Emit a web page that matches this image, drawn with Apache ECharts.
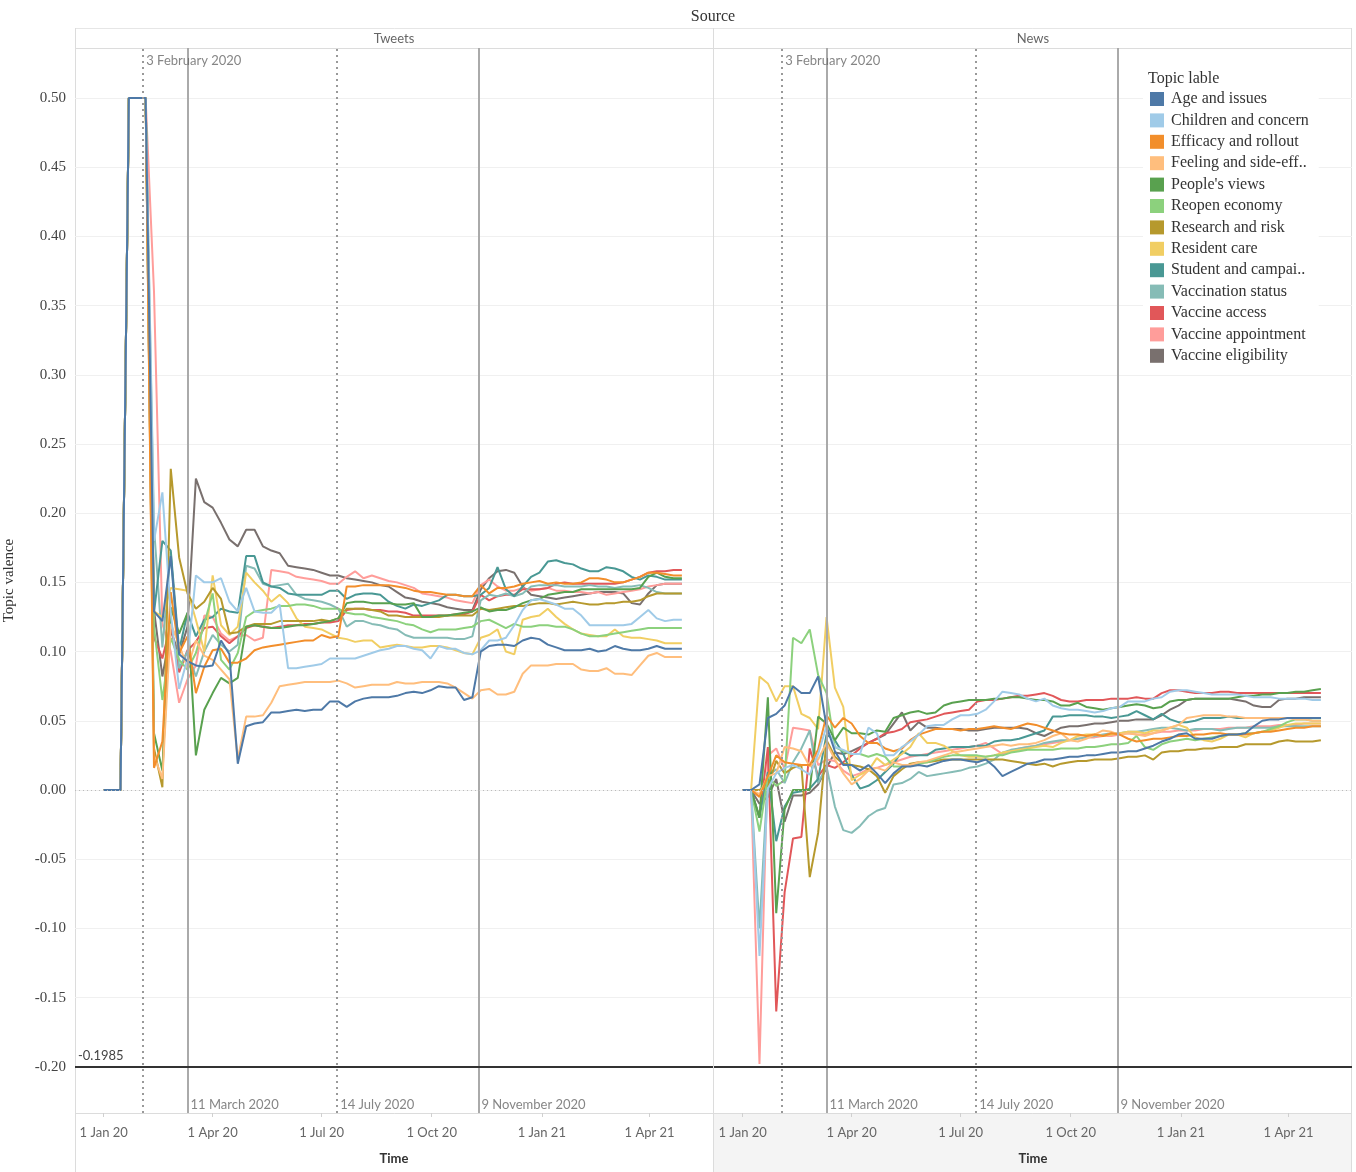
<!DOCTYPE html>
<html><head><meta charset="utf-8">
<script src="https://cdn.jsdelivr.net/npm/echarts@6/dist/echarts.min.js"></script>
<style>html,body{margin:0;padding:0;background:#fff}#c{width:1356px;height:1172px}</style>
</head><body><div id="c"></div>
<script>
// ---------- categories ----------
const topics = ['Age and issues','Children and concern','Efficacy and rollout','Feeling and side-eff..',"People's views",'Reopen economy','Research and risk','Resident care','Student and campai..','Vaccination status','Vaccine access','Vaccine appointment','Vaccine eligibility'];
const topicColors = ['#4E79A7','#A0CBE8','#F28E2B','#FFBE7D','#59A14F','#8CD17D','#B6992D','#F1CE63','#499894','#86BCB6','#E15759','#FF9D9A','#79706E'];
const panels = ['Tweets','News'];
const firstWeek = '2020-01-01';
const weekCount = 70;
const xTickDates = ['2020-01-01','2020-04-01','2020-07-01','2020-10-01','2021-01-01','2021-04-01'];
const yTicks = [-0.20,-0.15,-0.10,-0.05,0,0.05,0.10,0.15,0.20,0.25,0.30,0.35,0.40,0.45,0.50];
const refDates = ['2020-02-03','2020-03-11','2020-07-14','2020-11-09'];
const refLabels = ['3 February 2020','11 March 2020','14 July 2020','9 November 2020'];
const refDotted = [true,false,true,false];
const refLineValue = -0.1985;

// ---------- Tweets values (weekly) ----------
const tweetsAge = [0,0,0,0.5,0.5,0.5,0.129,0.122,0.169,0.098,0.093,0.090,0.089,0.090,0.108,0.098,0.019,0.046,0.048,0.049,0.056,0.056,0.057,0.058,0.057,0.058,0.058,0.064,0.064,0.060,0.064,0.066,0.067,0.067,0.067,0.068,0.070,0.071,0.070,0.072,0.075,0.074,0.074,0.065,0.067,0.100,0.104,0.105,0.105,0.104,0.108,0.110,0.109,0.105,0.103,0.101,0.101,0.101,0.102,0.100,0.101,0.104,0.102,0.101,0.101,0.102,0.104,0.102,0.102,0.102];
const tweetsChildren = [0,0,0,0.5,0.5,0.5,0.180,0.215,0.128,0.073,0.095,0.155,0.150,0.150,0.153,0.136,0.129,0.146,0.129,0.128,0.128,0.134,0.088,0.088,0.089,0.090,0.091,0.095,0.095,0.095,0.095,0.097,0.099,0.101,0.102,0.104,0.104,0.102,0.101,0.095,0.104,0.102,0.102,0.099,0.098,0.101,0.108,0.108,0.110,0.119,0.130,0.137,0.138,0.136,0.134,0.131,0.131,0.126,0.119,0.119,0.119,0.119,0.119,0.120,0.125,0.130,0.124,0.122,0.123,0.123];
const tweetsEfficacy = [0,0,0,0.5,0.5,0.5,0.016,0.035,0.143,0.099,0.111,0.070,0.089,0.101,0.102,0.092,0.092,0.095,0.101,0.103,0.104,0.105,0.106,0.107,0.108,0.108,0.112,0.110,0.111,0.147,0.147,0.148,0.148,0.148,0.148,0.147,0.146,0.144,0.143,0.143,0.142,0.141,0.141,0.140,0.140,0.148,0.142,0.146,0.146,0.147,0.149,0.150,0.151,0.149,0.150,0.149,0.149,0.150,0.153,0.153,0.152,0.150,0.150,0.152,0.154,0.157,0.157,0.156,0.155,0.155];
const tweetsFeeling = [0,0,0,0.5,0.5,0.5,0.025,0.008,0.120,0.105,0.088,0.108,0.097,0.094,0.087,0.080,0.022,0.053,0.053,0.054,0.063,0.075,0.076,0.077,0.078,0.078,0.078,0.078,0.079,0.077,0.074,0.075,0.076,0.076,0.076,0.078,0.077,0.077,0.078,0.078,0.078,0.077,0.074,0.070,0.066,0.072,0.073,0.069,0.069,0.071,0.084,0.090,0.090,0.090,0.091,0.091,0.091,0.087,0.086,0.086,0.088,0.084,0.084,0.083,0.090,0.097,0.099,0.096,0.096,0.096];
const tweetsPeople = [0,0,0,0.5,0.5,0.5,0.041,0.014,0.132,0.113,0.128,0.025,0.058,0.070,0.081,0.077,0.081,0.118,0.119,0.118,0.117,0.117,0.118,0.119,0.119,0.120,0.121,0.122,0.124,0.135,0.136,0.136,0.135,0.135,0.135,0.134,0.134,0.135,0.125,0.125,0.126,0.126,0.127,0.128,0.129,0.132,0.129,0.130,0.130,0.132,0.135,0.137,0.138,0.141,0.142,0.143,0.143,0.145,0.145,0.145,0.145,0.145,0.145,0.145,0.146,0.154,0.157,0.154,0.153,0.153];
const tweetsReopen = [0,0,0,0.5,0.5,0.5,0.118,0.065,0.110,0.094,0.087,0.099,0.120,0.142,0.094,0.087,0.099,0.125,0.129,0.130,0.131,0.133,0.133,0.134,0.134,0.133,0.131,0.131,0.131,0.128,0.127,0.127,0.125,0.124,0.123,0.122,0.120,0.119,0.116,0.114,0.116,0.116,0.116,0.117,0.118,0.122,0.123,0.120,0.117,0.120,0.118,0.118,0.119,0.119,0.118,0.118,0.116,0.113,0.111,0.111,0.112,0.113,0.114,0.115,0.116,0.117,0.117,0.117,0.117,0.117];
const tweetsResearch = [0,0,0,0.5,0.5,0.5,0.030,0.002,0.232,0.168,0.142,0.131,0.136,0.146,0.138,0.113,0.114,0.118,0.120,0.120,0.120,0.122,0.122,0.122,0.122,0.122,0.123,0.122,0.124,0.131,0.131,0.131,0.130,0.129,0.126,0.126,0.125,0.125,0.125,0.125,0.125,0.126,0.126,0.126,0.126,0.131,0.130,0.131,0.132,0.133,0.133,0.134,0.135,0.135,0.134,0.135,0.136,0.135,0.134,0.134,0.135,0.135,0.136,0.136,0.137,0.140,0.142,0.142,0.142,0.142];
const tweetsResident = [0,0,0,0.5,0.5,0.5,0.129,0.125,0.146,0.145,0.144,0.123,0.100,0.155,0.119,0.112,0.118,0.157,0.150,0.144,0.136,0.141,0.135,0.124,0.118,0.117,0.116,0.113,0.110,0.109,0.107,0.108,0.108,0.103,0.104,0.105,0.104,0.103,0.103,0.104,0.104,0.103,0.101,0.099,0.098,0.110,0.112,0.116,0.100,0.098,0.123,0.125,0.126,0.131,0.125,0.120,0.116,0.113,0.112,0.111,0.111,0.116,0.111,0.110,0.110,0.109,0.108,0.106,0.106,0.106];
const tweetsStudent = [0,0,0,0.5,0.5,0.5,0.128,0.180,0.173,0.101,0.128,0.111,0.123,0.125,0.131,0.129,0.128,0.169,0.169,0.150,0.147,0.146,0.142,0.141,0.141,0.141,0.141,0.144,0.144,0.138,0.141,0.142,0.142,0.141,0.136,0.133,0.131,0.134,0.133,0.135,0.137,0.141,0.141,0.140,0.140,0.141,0.146,0.161,0.145,0.140,0.147,0.154,0.157,0.165,0.166,0.164,0.163,0.160,0.158,0.158,0.161,0.160,0.158,0.154,0.152,0.155,0.154,0.152,0.152,0.152];
const tweetsStatus = [0,0,0,0.5,0.5,0.5,0.190,0.103,0.172,0.088,0.100,0.082,0.100,0.112,0.105,0.100,0.105,0.162,0.160,0.149,0.147,0.148,0.149,0.141,0.138,0.137,0.136,0.134,0.131,0.118,0.122,0.122,0.120,0.119,0.117,0.116,0.112,0.110,0.110,0.110,0.110,0.110,0.109,0.109,0.111,0.137,0.141,0.140,0.142,0.140,0.142,0.147,0.148,0.148,0.148,0.147,0.147,0.147,0.148,0.147,0.147,0.146,0.147,0.147,0.148,0.146,0.143,0.142,0.142,0.142];
const tweetsAccess = [0,0,0,0.5,0.5,0.5,0.110,0.095,0.120,0.085,0.101,0.107,0.117,0.118,0.111,0.106,0.111,0.117,0.119,0.118,0.117,0.118,0.119,0.119,0.120,0.120,0.121,0.121,0.122,0.130,0.131,0.131,0.130,0.130,0.129,0.129,0.128,0.126,0.126,0.126,0.126,0.126,0.127,0.127,0.129,0.141,0.137,0.140,0.141,0.141,0.145,0.145,0.145,0.146,0.149,0.150,0.149,0.149,0.149,0.149,0.149,0.149,0.150,0.152,0.154,0.157,0.158,0.158,0.159,0.159];
const tweetsAppointment = [0,0,0,0.5,0.5,0.5,0.360,0.120,0.100,0.063,0.080,0.090,0.126,0.125,0.113,0.108,0.111,0.112,0.108,0.110,0.159,0.158,0.157,0.154,0.153,0.152,0.151,0.149,0.149,0.154,0.158,0.153,0.155,0.153,0.151,0.150,0.148,0.146,0.142,0.141,0.140,0.139,0.137,0.136,0.135,0.148,0.152,0.147,0.144,0.144,0.146,0.144,0.145,0.146,0.144,0.144,0.143,0.143,0.142,0.143,0.141,0.142,0.143,0.144,0.145,0.147,0.148,0.149,0.149,0.149];
const tweetsEligibility = [0,0,0,0.5,0.5,0.5,0.130,0.082,0.115,0.098,0.118,0.225,0.208,0.204,0.193,0.181,0.176,0.188,0.188,0.176,0.173,0.171,0.162,0.161,0.160,0.159,0.157,0.155,0.155,0.153,0.152,0.151,0.150,0.148,0.147,0.143,0.139,0.138,0.136,0.135,0.134,0.132,0.131,0.130,0.130,0.145,0.153,0.158,0.159,0.157,0.147,0.141,0.140,0.139,0.138,0.139,0.140,0.141,0.142,0.143,0.143,0.143,0.142,0.135,0.134,0.142,0.148,0.149,0.149,0.149];

// ---------- News values (weekly) ----------
const newsAge = [0,0,0.004,0.052,0.055,0.061,0.075,0.070,0.070,0.082,0.046,0.028,0.018,0.018,0.014,0.018,0.012,0.005,0.012,0.017,0.017,0.018,0.017,0.019,0.021,0.022,0.022,0.021,0.020,0.022,0.017,0.010,0.013,0.016,0.019,0.020,0.022,0.022,0.023,0.024,0.024,0.025,0.025,0.026,0.027,0.027,0.028,0.028,0.030,0.032,0.035,0.037,0.040,0.041,0.037,0.037,0.037,0.039,0.040,0.040,0.041,0.046,0.050,0.051,0.051,0.052,0.052,0.052,0.052,0.052];
const newsChildren = [0,0,-0.120,0.001,0.012,0.016,0.018,0.015,0.011,0.026,0.046,0.031,0.029,0.026,0.026,0.045,0.041,0.025,0.025,0.031,0.035,0.040,0.046,0.047,0.047,0.051,0.054,0.054,0.055,0.058,0.064,0.071,0.070,0.069,0.066,0.064,0.066,0.061,0.059,0.058,0.058,0.057,0.056,0.057,0.059,0.060,0.064,0.064,0.064,0.066,0.067,0.071,0.072,0.072,0.071,0.070,0.069,0.069,0.069,0.069,0.068,0.067,0.067,0.067,0.066,0.066,0.066,0.066,0.065,0.065];
const newsEfficacy = [0,0,-0.005,0.010,0.025,0.020,0.019,0.018,0.018,0.029,0.054,0.045,0.052,0.048,0.039,0.034,0.034,0.030,0.028,0.030,0.036,0.040,0.042,0.044,0.044,0.044,0.043,0.044,0.044,0.045,0.046,0.045,0.044,0.046,0.048,0.047,0.045,0.043,0.041,0.040,0.040,0.039,0.040,0.039,0.041,0.040,0.037,0.035,0.036,0.037,0.037,0.038,0.039,0.039,0.040,0.040,0.041,0.041,0.040,0.040,0.040,0.041,0.042,0.042,0.043,0.044,0.045,0.045,0.046,0.046];
const newsFeeling = [0,0,-0.003,0.010,0.012,0.031,0.030,0.028,0.017,0.022,0.034,0.022,0.012,0.004,0.008,0.014,0.016,0.014,0.020,0.018,0.018,0.020,0.021,0.023,0.025,0.027,0.028,0.029,0.030,0.031,0.032,0.033,0.032,0.033,0.033,0.034,0.036,0.039,0.041,0.036,0.035,0.037,0.040,0.043,0.042,0.040,0.041,0.040,0.039,0.041,0.043,0.045,0.047,0.052,0.053,0.054,0.054,0.054,0.053,0.053,0.052,0.052,0.052,0.052,0.052,0.052,0.051,0.051,0.050,0.050];
const newsPeople = [0,0,-0.020,0.067,-0.089,-0.014,0.000,0.000,0.000,0.053,0.048,0.036,0.045,0.041,0.041,0.040,0.043,0.042,0.052,0.054,0.056,0.057,0.055,0.056,0.061,0.063,0.064,0.065,0.065,0.065,0.066,0.066,0.067,0.067,0.066,0.065,0.065,0.064,0.061,0.061,0.063,0.060,0.059,0.058,0.059,0.060,0.061,0.062,0.061,0.059,0.060,0.064,0.065,0.065,0.066,0.066,0.066,0.066,0.066,0.067,0.068,0.068,0.069,0.069,0.070,0.070,0.071,0.071,0.072,0.073];
const newsReopen = [0,0,-0.030,0.010,0.003,0.007,0.110,0.106,0.116,0.083,0.070,0.031,0.028,0.026,0.026,0.024,0.026,0.024,0.017,0.017,0.018,0.019,0.020,0.022,0.024,0.025,0.025,0.025,0.025,0.024,0.025,0.025,0.027,0.028,0.029,0.029,0.029,0.029,0.030,0.030,0.030,0.031,0.031,0.032,0.033,0.033,0.034,0.039,0.031,0.029,0.033,0.035,0.036,0.037,0.036,0.037,0.038,0.039,0.040,0.040,0.041,0.041,0.042,0.044,0.046,0.049,0.051,0.051,0.050,0.050];
const newsResearch = [0,0,0.000,0.003,0.021,0.012,0.016,0.018,-0.063,-0.031,0.036,0.024,0.019,0.018,0.017,0.015,0.010,-0.002,0.010,0.015,0.019,0.020,0.020,0.021,0.022,0.022,0.022,0.022,0.022,0.022,0.022,0.022,0.021,0.020,0.019,0.018,0.019,0.017,0.019,0.020,0.021,0.021,0.022,0.022,0.022,0.023,0.024,0.024,0.025,0.022,0.027,0.028,0.028,0.029,0.029,0.030,0.030,0.031,0.031,0.031,0.033,0.033,0.033,0.033,0.035,0.036,0.035,0.035,0.035,0.036];
const newsResident = [0,0,0.082,0.077,0.064,0.075,0.075,0.055,0.052,0.044,0.125,0.074,0.060,0.007,0.011,0.014,0.023,0.018,0.022,0.026,0.031,0.041,0.034,0.034,0.032,0.028,0.025,0.024,0.024,0.024,0.025,0.027,0.028,0.029,0.030,0.031,0.032,0.031,0.034,0.036,0.039,0.040,0.040,0.039,0.040,0.041,0.042,0.042,0.041,0.043,0.043,0.045,0.047,0.045,0.038,0.036,0.035,0.037,0.040,0.040,0.038,0.041,0.042,0.043,0.045,0.047,0.048,0.048,0.048,0.048];
const newsStudent = [0,0,-0.020,0.013,-0.037,-0.012,-0.002,-0.001,0.001,0.008,0.040,0.036,0.026,0.011,0.001,0.003,0.007,0.013,0.019,0.028,0.025,0.025,0.025,0.029,0.030,0.031,0.031,0.031,0.032,0.032,0.035,0.036,0.036,0.037,0.039,0.041,0.043,0.053,0.053,0.054,0.054,0.054,0.053,0.053,0.052,0.053,0.054,0.057,0.054,0.051,0.055,0.051,0.049,0.049,0.050,0.052,0.052,0.052,0.053,0.052,0.052,0.052,0.052,0.052,0.052,0.052,0.052,0.052,0.052,0.052];
const newsStatus = [0,0,-0.100,0.010,0.015,0.005,0.020,0.030,0.043,0.005,0.017,-0.012,-0.029,-0.031,-0.026,-0.019,-0.015,-0.013,0.004,0.005,0.008,0.013,0.010,0.011,0.012,0.013,0.014,0.016,0.017,0.019,0.022,0.027,0.029,0.030,0.031,0.032,0.034,0.035,0.036,0.036,0.037,0.038,0.039,0.040,0.041,0.041,0.042,0.042,0.043,0.044,0.045,0.045,0.044,0.043,0.044,0.044,0.044,0.043,0.044,0.045,0.045,0.045,0.045,0.045,0.046,0.046,0.046,0.046,0.046,0.046];
const newsAccess = [0,0,-0.020,0.031,-0.160,-0.074,-0.035,-0.034,0.030,0.010,0.018,0.016,0.020,0.025,0.030,0.034,0.037,0.041,0.042,0.044,0.049,0.050,0.051,0.053,0.055,0.056,0.057,0.058,0.064,0.065,0.065,0.066,0.067,0.068,0.068,0.069,0.070,0.068,0.065,0.064,0.064,0.065,0.065,0.065,0.066,0.066,0.066,0.067,0.066,0.066,0.070,0.072,0.072,0.071,0.070,0.070,0.070,0.071,0.071,0.070,0.070,0.070,0.070,0.070,0.070,0.070,0.070,0.070,0.070,0.070];
const newsAppointment = [0,0,-0.198,0.025,0.030,0.015,0.045,0.044,0.043,0.018,0.022,0.021,0.014,0.010,0.012,0.015,0.016,0.018,0.020,0.022,0.024,0.025,0.026,0.027,0.028,0.029,0.030,0.031,0.032,0.034,0.030,0.026,0.028,0.030,0.031,0.032,0.033,0.034,0.035,0.036,0.037,0.038,0.038,0.039,0.039,0.040,0.041,0.040,0.040,0.041,0.042,0.042,0.043,0.043,0.043,0.044,0.044,0.044,0.045,0.045,0.045,0.046,0.046,0.046,0.047,0.047,0.047,0.048,0.048,0.048];
const newsEligibility = [0,0,-0.010,-0.005,0.008,-0.023,-0.004,-0.004,-0.002,0.004,0.016,0.027,0.026,0.028,0.031,0.034,0.037,0.040,0.048,0.056,0.043,0.049,0.045,0.045,0.044,0.044,0.044,0.043,0.043,0.044,0.045,0.045,0.045,0.045,0.044,0.041,0.039,0.042,0.045,0.046,0.046,0.047,0.048,0.048,0.049,0.050,0.050,0.051,0.051,0.051,0.054,0.058,0.061,0.065,0.066,0.066,0.066,0.066,0.066,0.065,0.064,0.061,0.060,0.060,0.065,0.066,0.066,0.067,0.067,0.067];

const tweetsValues = [tweetsAge,tweetsChildren,tweetsEfficacy,tweetsFeeling,tweetsPeople,tweetsReopen,tweetsResearch,tweetsResident,tweetsStudent,tweetsStatus,tweetsAccess,tweetsAppointment,tweetsEligibility];
const newsValues = [newsAge,newsChildren,newsEfficacy,newsFeeling,newsPeople,newsReopen,newsResearch,newsResident,newsStudent,newsStatus,newsAccess,newsAppointment,newsEligibility];

// ---------- helpers ----------
const DAY = 86400000;
const ts = s => { const p = s.split('-').map(Number); return Date.UTC(p[0], p[1]-1, p[2]); };
const weeks = Array.from({length: weekCount}, (_, k) => ts(firstWeek) + k * 7 * DAY);
const monthNames = ['Jan','Feb','Mar','Apr','May','Jun','Jul','Aug','Sep','Oct','Nov','Dec'];
const fmtDate = v => { const d = new Date(v); return d.getUTCDate() + ' ' + monthNames[d.getUTCMonth()] + ' ' + String(d.getUTCFullYear()).slice(2); };

const SANS = 'Lato, "Open Sans", sans-serif';
const SERIF = '"Liberation Serif", "DejaVu Serif", serif';
const xMin = ts('2019-12-08'), xMax = ts('2021-05-24');
const yMin = -0.2334, yMax = 0.5361;

const grids = [
  {left: 75, top: 48, width: 638, height: 1065},
  {left: 714, top: 48, width: 638, height: 1065}
];

const xAxes = grids.map((g, i) => ({
  type: 'value', gridIndex: i, min: xMin, max: xMax, scale: true, position: 'bottom',
  axisLine: {show: false, onZero: false},
  axisTick: {show: true, customValues: xTickDates.map(ts), length: 4, lineStyle: {color: '#d0d0d0'}},
  axisLabel: {customValues: xTickDates.map(ts), formatter: fmtDate, color: '#666', fontFamily: SANS, fontSize: 13, margin: 13},
  splitLine: {show: false},
  name: 'Time', nameLocation: 'middle', nameGap: 39,
  nameTextStyle: {color: '#333', fontFamily: SANS, fontSize: 13, fontWeight: 'bold'}
}));

const yAxes = grids.map((g, i) => ({
  type: 'value', gridIndex: i, min: yMin, max: yMax,
  axisLine: {show: false, onZero: false},
  axisTick: {show: false, customValues: yTicks},
  axisLabel: {show: i === 0, customValues: yTicks, formatter: v => v.toFixed(2), color: '#444', fontFamily: SERIF, fontSize: 15, margin: 9},
  splitLine: {show: true, lineStyle: {color: '#f0f0f0', width: 1}},
  name: i === 0 ? 'Topic valence' : '', nameLocation: 'middle', nameGap: 58, nameRotate: 90,
  nameTextStyle: {color: '#333', fontFamily: SERIF, fontSize: 15}
}));

const series = [];
[tweetsValues, newsValues].forEach((vals, gi) => {
  series.push({
    type: 'line', name: 'refs' + gi, xAxisIndex: gi, yAxisIndex: gi, data: [], silent: true, z: 1,
    markLine: {
      symbol: 'none', silent: true, animation: false,
      data: [
        ...refDates.map((d, j) => ({xAxis: ts(d), label: {show: false},
          lineStyle: refDotted[j] ? {type: [2, 4], color: '#999', width: 2} : {type: 'solid', color: '#aaa', width: 2}})),
        {yAxis: 0, label: {show: false}, lineStyle: {type: [1, 3], color: '#bbb', width: 1}},
        {yAxis: refLineValue,
          label: gi === 0 ? {show: true, position: 'insideStartTop', formatter: '-0.1985', color: '#444', fontFamily: SANS, fontSize: 13, distance: [3, 4]} : {show: false},
          lineStyle: {type: 'solid', color: '#333', width: 2}}
      ]
    }
  });
  series.push({
    type: 'scatter', name: 'reflabels' + gi, xAxisIndex: gi, yAxisIndex: gi, symbolSize: 0, silent: true, z: 5,
    data: refDates.map((d, j) => ({value: [ts(d), j === 0 ? 0.5268 : -0.2276], label: {formatter: refLabels[j]}})),
    label: {show: true, position: 'right', distance: 3, color: '#666', fontFamily: SANS, fontSize: 13}
  });
  for (let i = topics.length - 1; i >= 0; i--) {
    series.push({
      type: 'line', name: topics[i], xAxisIndex: gi, yAxisIndex: gi,
      data: vals[i].map((v, k) => [weeks[k], v]),
      showSymbol: false, symbol: 'none', silent: true, z: 3,
      lineStyle: {width: 2, color: topicColors[i]}, itemStyle: {color: topicColors[i]},
      emphasis: {disabled: true}
    });
  }
});

const paneLine = '#dcdcdc';
const graphic = [
  {type: 'rect', shape: {x: 714, y: 1113, width: 638, height: 59}, style: {fill: '#f4f4f4'}, z: -10, silent: true},
  {type: 'line', shape: {x1: 75, y1: 28.5, x2: 1352, y2: 28.5}, style: {stroke: '#e6e6e6', lineWidth: 1}, silent: true},
  {type: 'line', shape: {x1: 75, y1: 48.5, x2: 1352, y2: 48.5}, style: {stroke: paneLine, lineWidth: 1}, silent: true},
  {type: 'line', shape: {x1: 75, y1: 1113.5, x2: 1352, y2: 1113.5}, style: {stroke: paneLine, lineWidth: 1}, silent: true},
  {type: 'line', shape: {x1: 75.5, y1: 28, x2: 75.5, y2: 1172}, style: {stroke: paneLine, lineWidth: 1}, silent: true},
  {type: 'line', shape: {x1: 713.5, y1: 28, x2: 713.5, y2: 1172}, style: {stroke: paneLine, lineWidth: 1}, silent: true},
  {type: 'line', shape: {x1: 1351.5, y1: 28, x2: 1351.5, y2: 1172}, style: {stroke: paneLine, lineWidth: 1}, silent: true},
  {type: 'text', x: 713, y: 17, style: {text: 'Source', align: 'center', verticalAlign: 'middle', fill: '#333', font: '16px ' + SERIF}, silent: true},
  {type: 'text', x: 394, y: 38.5, style: {text: panels[0], align: 'center', verticalAlign: 'middle', fill: '#666', font: '13px ' + SANS}, silent: true},
  {type: 'text', x: 1033, y: 38.5, style: {text: panels[1], align: 'center', verticalAlign: 'middle', fill: '#666', font: '13px ' + SANS}, silent: true},
  {type: 'text', x: 1148, y: 79, z: 100, style: {text: 'Topic lable', align: 'left', verticalAlign: 'middle', fill: '#333', font: '16px ' + SERIF}, silent: true}
];

const chart = echarts.init(document.getElementById('c'), null, {renderer: 'canvas'});
chart.setOption({
  animation: false,
  backgroundColor: '#fff',
  tooltip: {show: false},
  grid: grids,
  xAxis: xAxes,
  yAxis: yAxes,
  legend: {
    data: topics, orient: 'vertical', left: 1143, top: 66, icon: 'rect',
    itemWidth: 14, itemHeight: 14, itemGap: 5.4, selectedMode: false,
    backgroundColor: '#fff', padding: [25, 10, 8, 7],
    textStyle: {fontFamily: SERIF, fontSize: 16, lineHeight: 14, color: '#333', padding: [0, 0, 0, 2]}
  },
  graphic: graphic,
  series: series
});
</script></body></html>
